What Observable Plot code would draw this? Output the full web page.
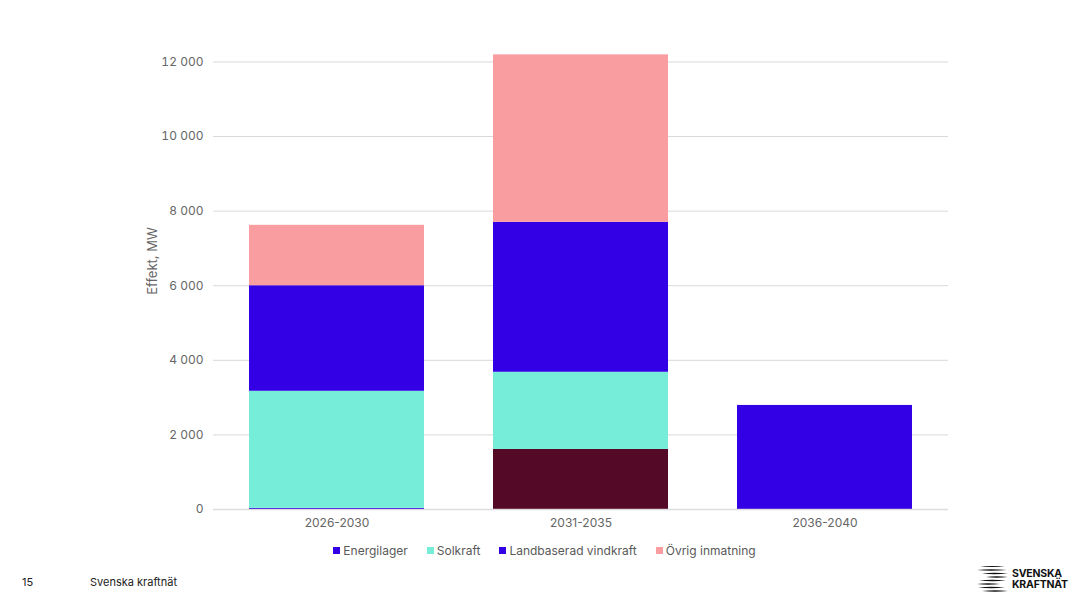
<!DOCTYPE html>
<html lang="sv">
<head>
<meta charset="utf-8">
<script src="https://cdn.jsdelivr.net/npm/d3@7"></script>
<script src="https://cdn.jsdelivr.net/npm/@observablehq/plot@0.6"></script>
<style>
  html, body { margin: 0; padding: 0; background: #fff; }
  #page { position: relative; width: 1089px; height: 612px; overflow: hidden; font-family: Inter, "Noto Sans", sans-serif; color: #595959; }
  #chart { position: absolute; left: 0; top: 0; }
  #ylabel { position: absolute; left: 152px; top: 261px; transform: translate(-50%, -50%) rotate(-90deg); font-size: 13px; white-space: nowrap; color: #666; }
  #legend { position: absolute; left: 0; width: 1089px; top: 543px; display: flex; justify-content: center; gap: 19px; font-size: 12px; color: #595959; }
  #legend .item { display: flex; align-items: center; gap: 3px; }
  #legend .sw { width: 7px; height: 7px; display: inline-block; }
  #footer-num { position: absolute; left: 22px; top: 575px; font-size: 11px; color: #222; }
  #footer-name { position: absolute; left: 90px; top: 575px; font-size: 11px; color: #222; }
  #logo { position: absolute; left: 976px; top: 565px; display: flex; align-items: center; gap: 3px; }
  #logo .txt { font-family: Inter, "Liberation Sans", sans-serif; font-weight: 700; font-size: 10.5px; line-height: 11px; color: #111; letter-spacing: -0.2px; }
</style>
</head>
<body>
<div id="page">
  <div id="chart"></div>
  <div id="ylabel">Effekt, MW</div>
  <div id="legend"></div>
  <div id="footer-num">15</div>
  <div id="footer-name">Svenska kraftnät</div>
  <div id="logo">
    <svg width="33" height="28" viewBox="0 0 33 28">
      <g fill="#111">
        <path d="M4 1.5 Q16 0.3 29 1.5 Q16 2.7 4 1.5Z"/>
        <path d="M1 5 Q14 3.6 31 5 Q14 6.4 1 5Z"/>
        <path d="M6 8.5 Q18 7.1 32 8.5 Q18 9.9 6 8.5Z"/>
        <path d="M10 12 Q20 10.6 32 12 Q20 13.4 10 12Z"/>
        <path d="M3 15.5 Q16 14.1 30 15.5 Q16 16.9 3 15.5Z"/>
        <path d="M1 19 Q12 17.6 24 19 Q12 20.4 1 19Z"/>
        <path d="M2 22.5 Q15 21.1 29 22.5 Q15 23.9 2 22.5Z"/>
        <path d="M6 26 Q19 24.6 32 26 Q19 27.4 6 26Z"/>
      </g>
    </svg>
    <div class="txt">SVENSKA<br>KRAFTNÄT</div>
  </div>
</div>
<script>
// Installed capacity (MW) per period, one array per type
const periods = ["2026-2030", "2031-2035", "2036-2040"];
const energilager = [30, 0, 0];
const ovrigProduktion = [0, 1610, 0];
const solkraft = [3140, 2070, 0];
const landbaseradVindkraft = [2830, 4020, 2790];
const ovrigInmatning = [1620, 4490, 0];

const seriesNames = ["Energilager", "Övrig produktion", "Solkraft", "Landbaserad vindkraft", "Övrig inmatning"];
const seriesColors = ["#3300e6", "#540a27", "#76edd9", "#3300e6", "#fa9da1"];
const legendNames = ["Energilager", "Solkraft", "Landbaserad vindkraft", "Övrig inmatning"];
const yTicks = [0, 2000, 4000, 6000, 8000, 10000, 12000];

const seriesValues = [energilager, ovrigProduktion, solkraft, landbaseradVindkraft, ovrigInmatning];
const rows = [];
seriesNames.forEach((name, s) => {
  periods.forEach((p, i) => rows.push({ period: p, typ: name, mw: seriesValues[s][i] }));
});

const locale = d3.formatLocale({ decimal: ",", thousands: "\u00a0", grouping: [3], currency: ["", ""] });
const fmt = locale.format(",d");

const chart = Plot.plot({
  width: 1089,
  height: 540,
  marginLeft: 213,
  marginRight: 141,
  marginTop: 54,
  marginBottom: 31,
  style: { fontFamily: "Inter, 'Noto Sans', sans-serif", fontSize: "12px", color: "#666", background: "#fff" },
  x: { domain: periods, paddingInner: 0.284, paddingOuter: 0.147, label: null },
  y: { domain: [0, 12200], label: null },
  color: { domain: seriesNames, range: seriesColors },
  marks: [
    Plot.gridY(yTicks.slice(1), { stroke: "#d9d9d9", strokeOpacity: 1 }),
    Plot.barY(rows, { x: "period", y: "mw", fill: "typ", order: seriesNames }),
    Plot.ruleY([0], { stroke: "#d9d9d9", strokeOpacity: 0.9, strokeWidth: 1.5 }),
    Plot.axisY({ ticks: yTicks, tickSize: 0, tickPadding: 10, tickFormat: fmt, label: null }),
    Plot.axisX({ tickSize: 0, tickPadding: 9, label: null })
  ]
});
document.getElementById("chart").appendChild(chart);

const legend = document.getElementById("legend");
legendNames.forEach(name => {
  const item = document.createElement("div");
  item.className = "item";
  const sw = document.createElement("span");
  sw.className = "sw";
  sw.style.background = seriesColors[seriesNames.indexOf(name)];
  const t = document.createElement("span");
  t.textContent = name;
  item.appendChild(sw);
  item.appendChild(t);
  legend.appendChild(item);
});
</script>
</body>
</html>
